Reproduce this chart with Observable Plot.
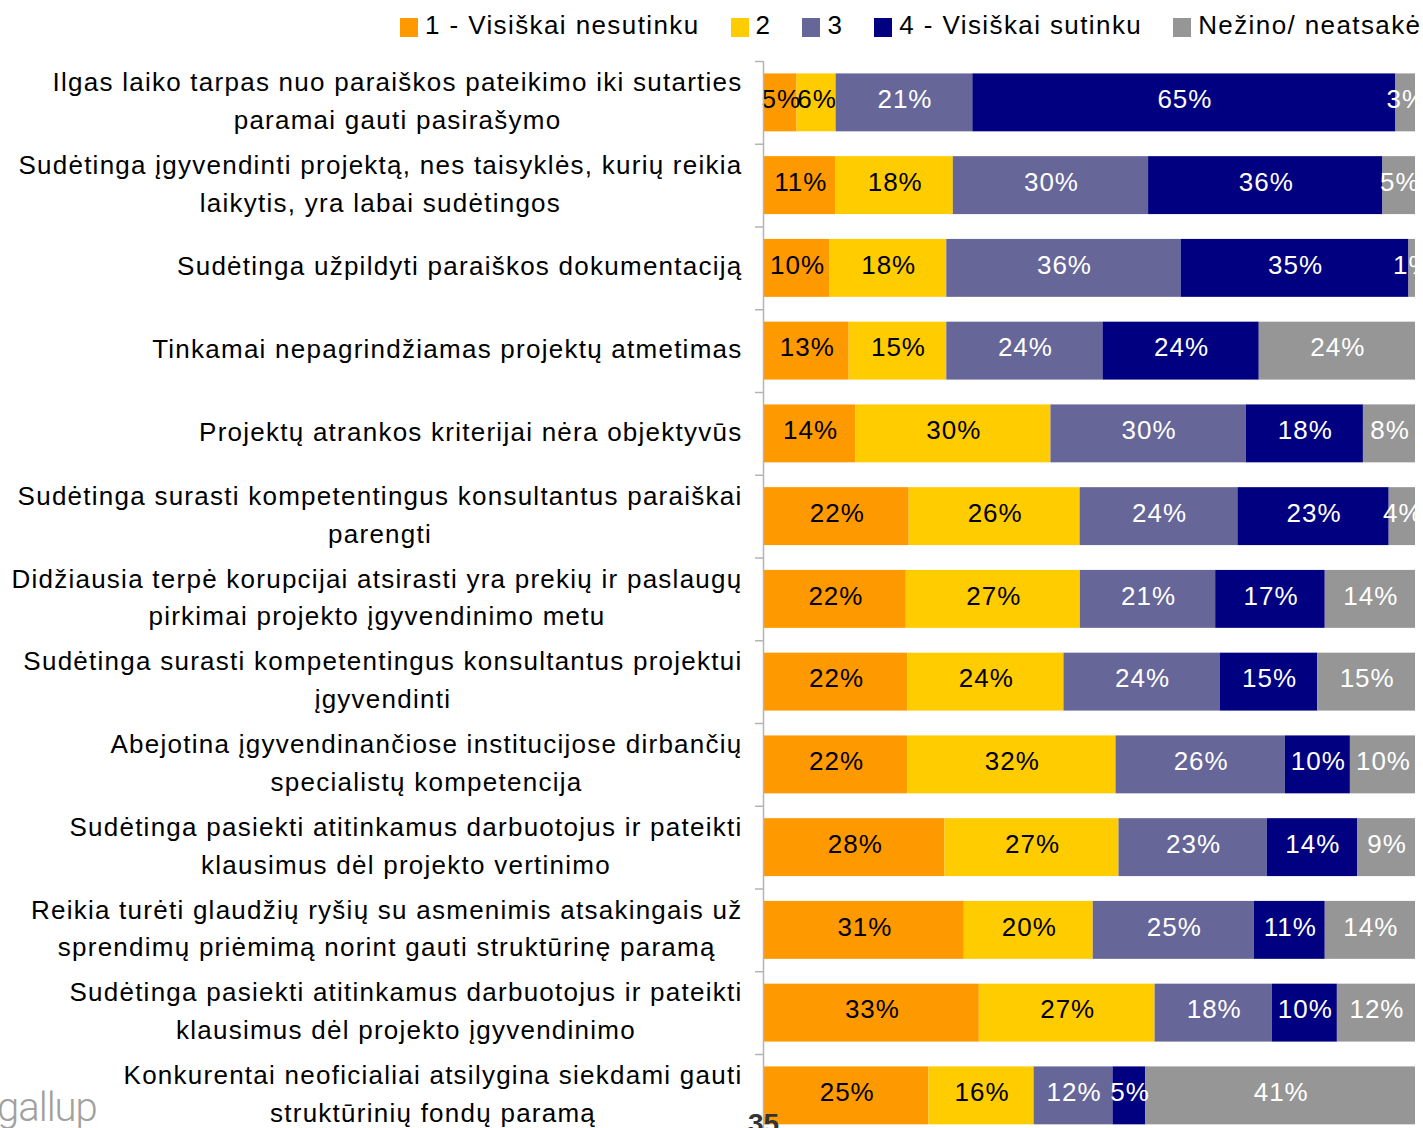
<!DOCTYPE html>
<html><head><meta charset="utf-8">
<script src="https://cdn.jsdelivr.net/npm/d3@7"></script>
<script src="https://cdn.jsdelivr.net/npm/@observablehq/plot@0.6"></script>
<style>
html,body{margin:0;padding:0;background:#fff;overflow:hidden;}
body{font-family:"Liberation Sans",Arial,sans-serif;color:#000;}
#wrap{position:relative;width:1423px;}
#legend{height:50px;display:flex;align-items:center;padding-left:400px;font-size:26px;letter-spacing:1.4px;white-space:nowrap;}
#legend .item{display:flex;align-items:center;margin-right:31px;}
#legend .sw{width:18px;height:19px;margin-right:7px;margin-top:4px;}
#chart svg{display:block;overflow:visible;}
.gallup{position:absolute;left:-3px;top:1084px;font-family:Roboto,"Liberation Sans",sans-serif;font-weight:300;font-size:40px;color:#a0a0a0;letter-spacing:-1px;}
.pnum{position:absolute;left:748px;top:1108px;font-size:28px;font-weight:bold;color:#333;}
</style></head><body>
<div id="wrap">
  <div id="legend"></div>
  <div id="chart"></div>
  <div class="gallup">gallup</div>
  <div class="pnum">35</div>
</div>
<script>
// ---- data ----
const statements = [
  "Ilgas laiko tarpas nuo paraiškos pateikimo iki sutarties\nparamai gauti pasirašymo",
  "Sudėtinga įgyvendinti projektą, nes taisyklės, kurių reikia\nlaikytis, yra labai sudėtingos",
  "Sudėtinga užpildyti paraiškos dokumentaciją",
  "Tinkamai nepagrindžiamas projektų atmetimas",
  "Projektų atrankos kriterijai nėra objektyvūs",
  "Sudėtinga surasti kompetentingus konsultantus paraiškai\nparengti",
  "Didžiausia terpė korupcijai atsirasti yra prekių ir paslaugų\npirkimai projekto įgyvendinimo metu",
  "Sudėtinga surasti kompetentingus konsultantus projektui\nįgyvendinti",
  "Abejotina įgyvendinančiose institucijose dirbančių\nspecialistų kompetencija",
  "Sudėtinga pasiekti atitinkamus darbuotojus ir pateikti\nklausimus dėl projekto vertinimo",
  "Reikia turėti glaudžių ryšių su asmenimis atsakingais už\nsprendimų priėmimą norint gauti struktūrinę paramą",
  "Sudėtinga pasiekti atitinkamus darbuotojus ir pateikti\nklausimus dėl projekto įgyvendinimo",
  "Konkurentai neoficialiai atsilygina siekdami gauti\nstruktūrinių fondų paramą"
];
const responses = ["1 - Visiškai nesutinku", "2", "3", "4 - Visiškai sutinku", "Nežino/ neatsakė"];
const colors = ["#FF9900", "#FFCC00", "#666699", "#000080", "#969696"];
const labelColors = ["#000000", "#000000", "#ffffff", "#ffffff", "#ffffff"];

const r1 = [5, 11, 10, 13, 14, 22, 22, 22, 22, 28, 31, 33, 25];
const r2 = [6, 18, 18, 15, 30, 26, 27, 24, 32, 27, 20, 27, 16];
const r3 = [21, 30, 36, 24, 30, 24, 21, 24, 26, 23, 25, 18, 12];
const r4 = [65, 36, 35, 24, 18, 23, 17, 15, 10, 14, 11, 10, 5];
const r5 = [3, 5, 1, 24, 8, 4, 14, 15, 10, 9, 14, 12, 41];
const series = [r1, r2, r3, r4, r5];

// ---- table ----
const data = [];
statements.forEach((s, i) => {
  responses.forEach((r, j) => {
    data.push({statement: s, response: r, value: series[j][i], ri: j});
  });
});

// ---- legend ----
const legend = document.getElementById("legend");
responses.forEach((r, j) => {
  const it = document.createElement("div");
  it.className = "item";
  const sw = document.createElement("span");
  sw.className = "sw";
  sw.style.background = colors[j];
  const tx = document.createElement("span");
  tx.textContent = r;
  it.appendChild(sw); it.appendChild(tx);
  legend.appendChild(it);
});

// ---- chart ----
const W = 1423, mL = 764, mR = 8, mT = 11, mB = 10;
const n = statements.length;
const step = 82.75;
const H = mT + n * step + mB;
const font = "'Liberation Sans', Arial, sans-serif";

const stackOpts = {x: "value", y: "statement", order: responses, offset: "normalize"};

const plot = Plot.plot({
  width: W,
  height: H,
  marginLeft: mL,
  marginRight: mR,
  marginTop: mT,
  marginBottom: mB,
  style: {fontFamily: font, fontSize: "26px", color: "#000", background: "#fff", overflow: "visible"},
  x: {domain: [0, 1], axis: null},
  y: {domain: statements, paddingInner: 0.3, paddingOuter: 0.15, round: false, label: null},
  color: {domain: responses, range: colors},
  marks: [
    Plot.barX(data, Plot.stackX({...stackOpts, fill: "response"})),
    Plot.text(data, Plot.stackX({
      ...stackOpts, z: "response",
      text: d => d.value + "%",
      fill: d => labelColors[d.ri],
      fontSize: 26,
      dy: -3,
      dx: 0.5
    })),
    Plot.ruleX([0], {stroke: "#b4b4b4", strokeWidth: 1.5, dx: -1}),
    Plot.axisY({tickSize: 8, tickFormat: () => "", stroke: "#b4b4b4", strokeWidth: 1.5, dy: -step / 2, dx: -1}),
    Plot.axisY({tickSize: 0, tickPadding: 22, fontSize: 26, lineHeight: 1.45, dy: -5, fill: "#000", label: null})
  ]
});

document.getElementById("chart").appendChild(plot);

// widen text spacing to match reference glyph widths
plot.querySelectorAll("g[aria-label='text'] text").forEach(t => t.setAttribute("letter-spacing", "1px"));
const labels = plot.querySelectorAll("g[aria-label='y-axis tick label'] text");
labels.forEach(t => t.setAttribute("letter-spacing", "1.25px"));
// center multi-line labels as a block, right-aligned
labels.forEach(t => {
  const spans = t.querySelectorAll("tspan");
  if (spans.length > 1) {
    const w = t.getBBox().width;
    t.setAttribute("text-anchor", "middle");
    spans.forEach(s => s.setAttribute("x", -w / 2));
  }
});
</script>
</body></html>
